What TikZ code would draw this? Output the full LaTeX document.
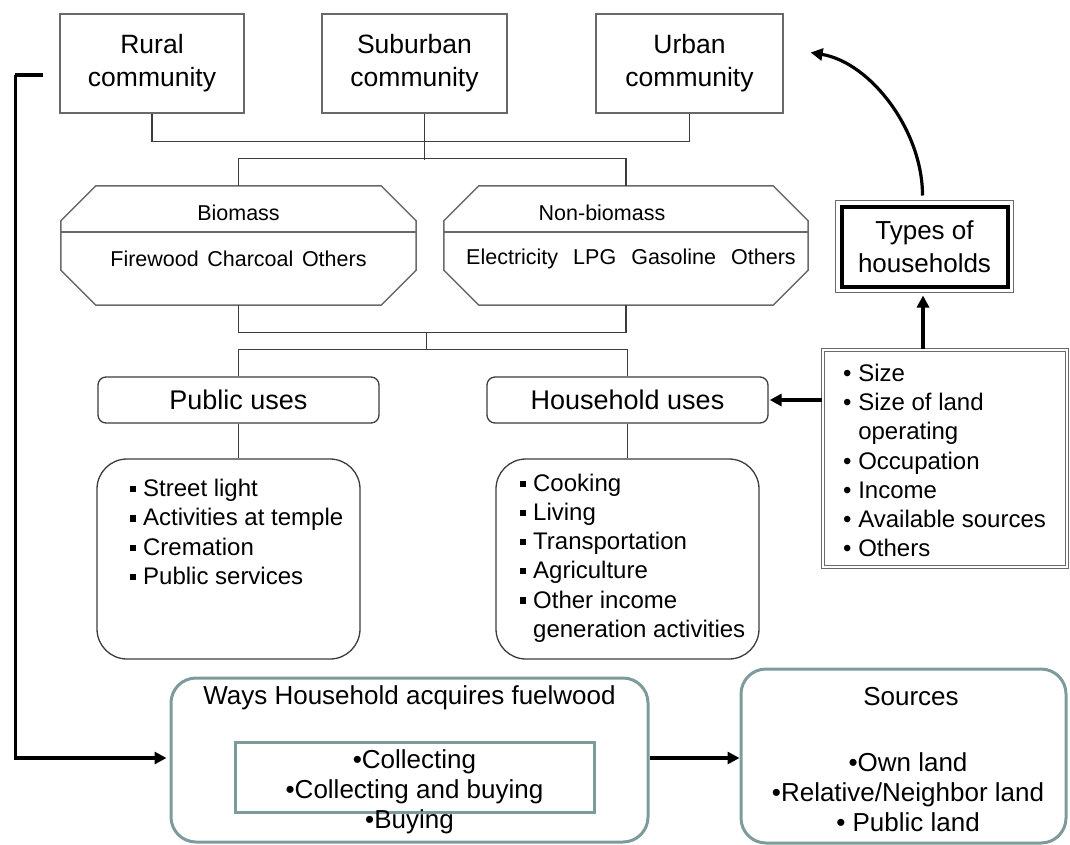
\documentclass[tikz,border=0pt]{standalone}
\usepackage{fontspec}
\setmainfont{Liberation Sans}
\usetikzlibrary{arrows.meta,calc}
\definecolor{tealb}{RGB}{125,155,155}
\definecolor{bgray}{RGB}{105,105,105}
\definecolor{lgray}{RGB}{60,60,60}
\newcommand\sqb{\rule[0.18em]{0.24em}{0.26em}\hspace{0.3em}}
\begin{document}
\begin{tikzpicture}[x=1pt,y=-1pt,
  topbox/.style={draw=bgray,line width=1.3pt,minimum height=99pt,inner sep=0pt,align=center,font=\fontsize{26.5}{33}\selectfont},
  conn/.style={draw=lgray,line width=1.2pt},
  octa/.style={draw=bgray,line width=1.5pt},
  octxt/.style={inner sep=0pt,font=\fontsize{21.5}{25}\selectfont},
  usebox/.style={draw=lgray,line width=1.3pt,rounded corners=8pt,minimum width=281pt,minimum height=46pt,inner sep=0pt,font=\fontsize{27}{29}\selectfont},
  listbox/.style={draw=lgray,line width=1.3pt,rounded corners=30pt,minimum width=263pt,minimum height=200pt,inner sep=0pt},
  listtxt/.style={inner sep=0pt,align=left,font=\fontsize{24}{29.2}\selectfont},
  tealbox/.style={draw=tealb,line width=3pt,rounded corners=25pt,inner sep=0pt},
  btxt/.style={inner sep=0pt,align=center,font=\fontsize{26}{30}\selectfont},
  thickarr/.style={line width=3.2pt,-{Triangle[length=12pt,width=12pt]}},
]
\useasboundingbox (0,0) rectangle (1070,844);

% top community boxes
\node[topbox,minimum width=184pt] (rural) at (152,63.5) {Rural\\community};
\node[topbox,minimum width=185pt] (sub) at (414.5,63.5) {Suburban\\community};
\node[topbox,minimum width=187pt] (urban) at (689.5,63.5) {Urban\\community};

% octagons
\node[minimum width=355pt,minimum height=119pt,inner sep=0pt] (bio) at (238.5,245.5) {};
\node[minimum width=364pt,minimum height=119pt,inner sep=0pt] (nonbio) at (626,245.5) {};
\foreach \o in {bio,nonbio}{
  \draw[octa] ([xshift=35pt]\o.north west) -- ([xshift=-35pt]\o.north east)
    -- ([yshift=-35pt]\o.north east) -- ([yshift=35pt]\o.south east)
    -- ([xshift=-35pt]\o.south east) -- ([xshift=35pt]\o.south west)
    -- ([yshift=35pt]\o.south west) -- ([yshift=-35pt]\o.north west) -- cycle;
  \draw[octa] ([yshift=-46pt]\o.north west) -- ([yshift=-46pt]\o.north east);
}
\node[octxt] (biot) at ([yshift=-27pt]bio.north) {Biomass};
\node[octxt] (bioi) at ([yshift=-73pt]bio.north) {Firewood\hspace{0.4em}Charcoal\hspace{0.4em}Others};
\node[octxt] (nbiot) at ([xshift=-24pt,yshift=-27pt]nonbio.north) {Non-biomass};
\node[octxt] (nbioi) at ([xshift=5pt,yshift=-73pt]nonbio.north) {Electricity\hspace{0.7em}LPG\hspace{0.7em}Gasoline\hspace{0.7em}Others};

% uses boxes
\node[usebox] (pub) at (238.5,400) {Public uses};
\node[usebox] (hh) at (627.5,400) {Household uses};

% list boxes
\node[listbox] (publist) at (228.5,559) {};
\node[listbox] (hhlist) at (627.5,559) {};
\node[listtxt,anchor=west] (publt) at (130,532) {\sqb Street light\\\sqb Activities at temple\\\sqb Cremation\\\sqb Public services};
\node[listtxt,anchor=west] (hhlt) at (520,558) {\sqb Cooking\\\sqb Living\\\sqb Transportation\\\sqb Agriculture\\\sqb Other income\\\hphantom{\sqb}generation activities};

% types of households
\node[draw=black,line width=4pt,minimum width=166pt,minimum height=80pt,inner sep=0pt,align=center,font=\fontsize{26}{33}\selectfont] (types) at (924.5,246.5) {Types of\\households};
\draw[draw=bgray,line width=1pt] ([shift={(-3.8pt,3.8pt)}]types.north west) rectangle ([shift={(3.8pt,-3.8pt)}]types.south east);

% characteristics
\node[draw=bgray,line width=1.1pt,double,double distance=1.6pt,minimum width=244pt,minimum height=217pt,inner sep=0pt] (chars) at (945,458.5) {};
\node[listtxt,anchor=west] (charst) at (843,460.5) {\textbullet\ Size\\\textbullet\ Size of land\\\hphantom{\textbullet\ }operating\\\textbullet\ Occupation\\\textbullet\ Income\\\textbullet\ Available sources\\\textbullet\ Others};

% bottom boxes
\node[tealbox,minimum width=477pt,minimum height=164pt] (ways) at (409.5,760) {};
\node[btxt] (wayst) at (409.5,698) {Ways Household acquires fuelwood};
\node[draw=tealb,line width=3pt,minimum width=359pt,minimum height=70pt,inner sep=0pt,align=center,font=\fontsize{26}{30}\selectfont] (inner) at (414.5,777) {•Collecting\\•Collecting and buying};
\node[btxt] (buy) at (409.5,822) {•Buying};

\node[tealbox,minimum width=325pt,minimum height=174pt] (src) at (903.5,756) {};
\node[btxt] (srct) at (911,697) {Sources};
\node[btxt] (srci) at (908,792) {•Own land\\•Relative/Neighbor land\\• Public land};

% connectors
\draw[conn] (rural.south) -- ++(0,28) -| (urban.south);
\draw[conn] ([xshift=10pt]sub.south) -- ++(0,46);
\draw[conn] (bio.north) -- ++(0,-27) -| (nonbio.north);
\draw[conn] (bio.south) -- ++(0,27) -| (nonbio.south);
\draw[conn] ($(bio.south)!0.5!(nonbio.south)+(-6,27)$) -- ++(0,18);
\draw[conn] (pub.north) -- ++(0,-27) -| (hh.north);
\draw[conn] (pub.south) -- (pub.south |- publist.north);
\draw[conn] (hh.south) -- (hh.south |- hhlist.north);

% arrows
\draw[thickarr] ([xshift=-1.5pt]types.south |- chars.north) -- ([xshift=-1.5pt,yshift=-7pt]types.south);
\draw[thickarr] (chars.west |- hh.east) -- ([xshift=1pt]hh.east);
\coordinate (cstart) at ([xshift=-2pt,yshift=9pt]types.north);
\coordinate (cend) at ([xshift=27pt,yshift=11pt]urban.east);
\draw[thickarr] (cstart) .. controls ++(0,-65) and ($(cend)+(60,10)$) .. (cend);
\coordinate (lstart) at ([xshift=-16pt,yshift=-11.5pt]rural.west);
\draw[line width=3.2pt] (lstart) -- ++(-28,0) coordinate (lcorner);
\draw[thickarr] (lcorner) |- ([xshift=-3pt,yshift=2pt]ways.west);
\draw[thickarr] ([yshift=2pt]ways.east) -- ([yshift=2pt]ways.east -| src.west);
\end{tikzpicture}
\end{document}
